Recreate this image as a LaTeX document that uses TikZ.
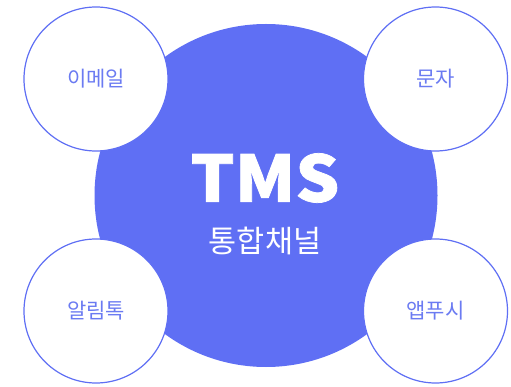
\documentclass[tikz,border=0pt]{standalone}
\usepackage{fontspec}
\setmainfont{Noto Sans CJK KR}[BoldFeatures={FakeBold=1.2}]
\usepackage{xcolor}
\definecolor{tmsblue}{HTML}{5F6FF4}
\definecolor{chtext}{HTML}{6B7BF2}

\begin{document}
\begin{tikzpicture}[x=1pt,y=-1pt]%
  \tikzstyle{hub}=[circle,fill=tmsblue,minimum size=343pt,inner sep=0]
  \tikzstyle{chan}=[circle,draw=tmsblue,line width=1.2pt,fill=white,minimum size=144pt,inner sep=0,text=chtext,font=\fontsize{21}{24}\selectfont]
  \useasboundingbox (0,0) rectangle (511,387);
  \node(hub)[hub] at (266,195.5){};
  \node(tms)[text=white,inner sep=0,font=\fontsize{64}{64}\selectfont\bfseries] at (265,178){\scalebox{1.08}[1]{TMS}};
  \node(sub)[text=white,inner sep=0,font=\fontsize{30.5}{33}\selectfont] at (265,241){통합채널};
  \node(mail)[chan] at (96,79){이메일};
  \node(sms)[chan] at (435.5,79){문자};
  \node(talk)[chan] at (96,311){알림톡};
  \node(push)[chan] at (435.5,311){앱푸시};
\end{tikzpicture}
\end{document}
